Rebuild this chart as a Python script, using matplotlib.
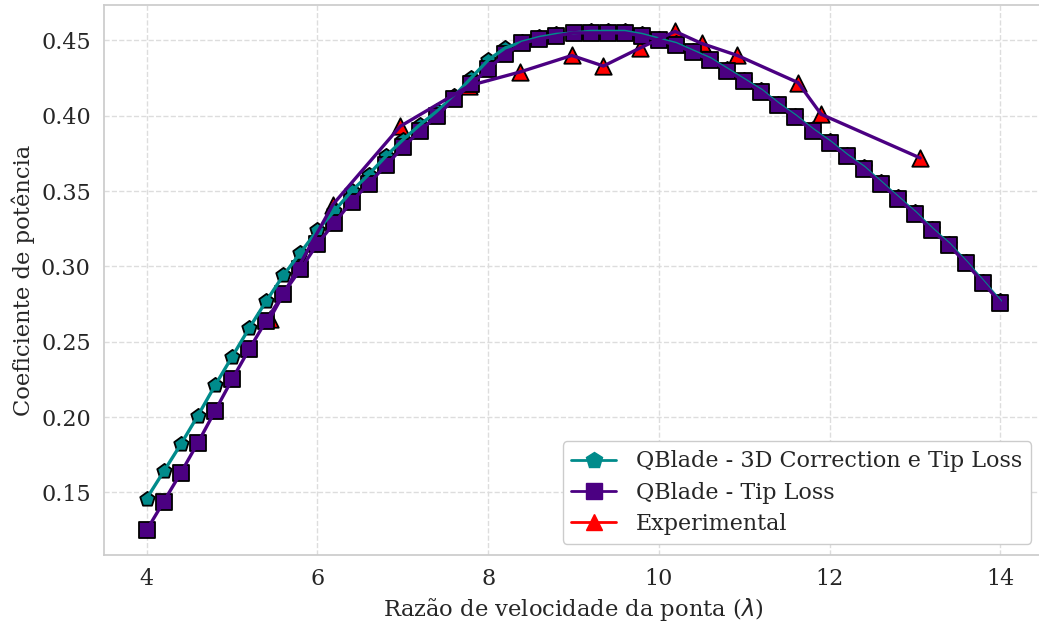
import numpy as np
import matplotlib
matplotlib.use("Agg")
import matplotlib.pyplot as plt
from matplotlib.lines import Line2D
import seaborn as sns

# tip speed ratio grid of the QBlade runs
tsr = [4.0, 4.2, 4.4, 4.6, 4.8, 5.0, 5.2, 5.4, 5.6, 5.8,
       6.0, 6.2, 6.4, 6.6, 6.8, 7.0, 7.2, 7.4, 7.6, 7.8,
       8.0, 8.2, 8.4, 8.6, 8.8, 9.0, 9.2, 9.4, 9.6, 9.8,
       10.0, 10.2, 10.4, 10.6, 10.8, 11.0, 11.2, 11.4, 11.6, 11.8,
       12.0, 12.2, 12.4, 12.6, 12.8, 13.0, 13.2, 13.4, 13.6, 13.8, 14.0]

cp_3d = [0.146, 0.164, 0.182, 0.201, 0.221, 0.240, 0.259, 0.277, 0.294, 0.309,
         0.324, 0.337, 0.350, 0.361, 0.373, 0.384, 0.394, 0.403, 0.413, 0.425,
         0.437, 0.445, 0.449, 0.452, 0.454, 0.455, 0.456, 0.456, 0.456, 0.454,
         0.451, 0.448, 0.443, 0.438, 0.431, 0.424, 0.417, 0.408, 0.400, 0.391,
         0.383, 0.374, 0.366, 0.356, 0.346, 0.336, 0.325, 0.315, 0.303, 0.290, 0.277]

cp_tip = [0.125, 0.144, 0.163, 0.183, 0.204, 0.225, 0.245, 0.264, 0.282, 0.298,
          0.315, 0.329, 0.343, 0.355, 0.367, 0.379, 0.390, 0.400, 0.411, 0.421,
          0.431, 0.441, 0.448, 0.451, 0.453, 0.455, 0.455, 0.455, 0.455, 0.453,
          0.450, 0.447, 0.442, 0.437, 0.430, 0.423, 0.416, 0.407, 0.399, 0.390,
          0.382, 0.373, 0.365, 0.355, 0.345, 0.335, 0.324, 0.314, 0.302, 0.289, 0.276]

tsr_exp = [5.44, 6.18, 6.97, 7.78, 8.37, 8.98, 9.35, 9.78, 10.19, 10.5, 10.92, 11.63, 11.9, 13.06]
cp_exp = [0.265, 0.341, 0.393, 0.420, 0.429, 0.440, 0.433, 0.445, 0.456, 0.448, 0.440, 0.422, 0.401, 0.372]

teal = "#008b8b"
indigo = "#4b0082"

sns.set_theme(style="whitegrid")
plt.rcParams["font.family"] = ["DejaVu Serif"]
plt.rcParams["grid.linestyle"] = "--"
plt.rcParams["grid.color"] = "#dddddd"
plt.rcParams["axes.edgecolor"] = "#cccccc"

fig = plt.figure(figsize=(10.39, 6.26), dpi=100)
ax = fig.add_axes([0.1001, 0.1134, 0.9038, 0.8786])
ax.spines["right"].set_visible(False)

# markers first (scatter sits under the lines)
ax.scatter(tsr_exp, cp_exp, marker="^", s=140, color="red", edgecolor="black", linewidth=1.3)
ax.scatter(tsr, cp_3d, marker="p", s=120, color=teal, edgecolor="black", linewidth=1.3)
ax.scatter(tsr, cp_tip, marker="s", s=130, color=indigo, edgecolor="black", linewidth=1.3)

ax.plot(tsr, cp_3d, color=teal, lw=2.4)
ax.plot(tsr, cp_tip, color=indigo, lw=2.4)
ax.plot(tsr_exp, cp_exp, color=indigo, lw=2.4)

ax.set_xlim(3.5, 14.5)
ax.set_ylim(0.1085, 0.4735)
ax.set_xticks([4, 6, 8, 10, 12, 14])
ax.set_yticks([0.15, 0.20, 0.25, 0.30, 0.35, 0.40, 0.45])
ax.set_yticklabels(["0.15", "0.20", "0.25", "0.30", "0.35", "0.40", "0.45"])
ax.tick_params(labelsize=16, colors=".15")

ax.set_xlabel("Razão de velocidade da ponta ($\\lambda$)", fontsize=16.3, color=".15")
ax.set_ylabel("Coeficiente de potência", fontsize=16.3, color=".15")

handles = [
    Line2D([], [], color=teal, lw=2, marker="p", markersize=12),
    Line2D([], [], color=indigo, lw=2, marker="s", markersize=11),
    Line2D([], [], color="red", lw=2, marker="^", markersize=12),
]
labels = ["QBlade - 3D Correction e Tip Loss", "QBlade - Tip Loss", "Experimental"]
ax.legend(handles, labels, loc="lower right", fontsize=16, frameon=True,
          edgecolor="#cccccc", facecolor="white", framealpha=1,
          borderpad=0.4, labelspacing=0.42, handletextpad=0.9,
          bbox_to_anchor=(0.999, 0.0))

fig.savefig("out.png", dpi=100)
